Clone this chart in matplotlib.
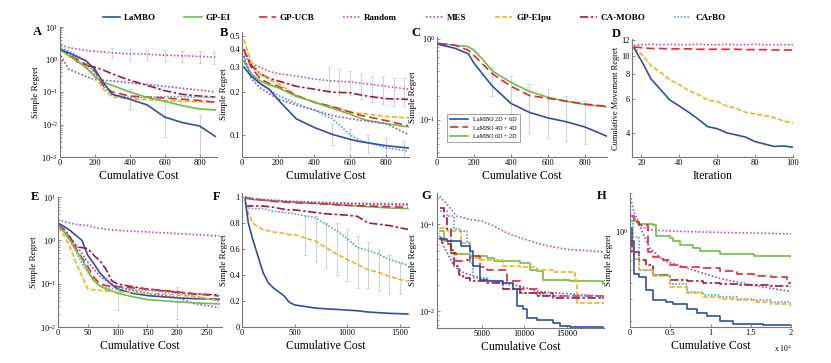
import matplotlib
matplotlib.use("Agg")
import matplotlib.pyplot as plt
from matplotlib.ticker import FixedLocator, NullFormatter, FuncFormatter, NullLocator, LogLocator
from matplotlib.lines import Line2D

plt.rcParams['font.family'] = ['Liberation Serif', 'DejaVu Serif']
plt.rcParams['mathtext.fontset'] = 'stix'

# ---------------- data ----------------
methods = ["LaMBO", "GP-EI", "GP-UCB", "Random", "MES", "GP-EIpu", "CA-MOBO", "CArBO"]

# Panel A
A_x = [5, 50, 100, 150, 200, 250, 300, 400, 500, 600, 700, 800, 890]
A_lambo = [2.0, 1.6, 1.2, 0.9, 0.5, 0.19, 0.085, 0.06, 0.04, 0.017, 0.0115, 0.009, 0.0043]
A_gpei = [2.0, 1.3, 0.9, 0.55, 0.3, 0.2, 0.16, 0.1, 0.068, 0.052, 0.038, 0.03, 0.028]
A_gpucb = [2.0, 1.4, 1.0, 0.7, 0.45, 0.15, 0.1, 0.075, 0.07, 0.065, 0.06, 0.055, 0.048]
A_random = [2.8, 2.3, 2.1, 1.9, 1.8, 1.7, 1.6, 1.5, 1.45, 1.35, 1.3, 1.25, 1.18]
A_mes = [1.3, 0.5, 0.39, 0.3, 0.24, 0.23, 0.22, 0.19, 0.17, 0.15, 0.13, 0.115, 0.1]
A_eipu = [2.0, 1.3, 0.9, 0.6, 0.3, 0.12, 0.07, 0.062, 0.058, 0.055, 0.052, 0.05, 0.05]
A_camobo = [2.0, 1.4, 0.85, 0.68, 0.58, 0.47, 0.36, 0.23, 0.16, 0.11, 0.085, 0.075, 0.07]
A_carbo = [2.3, 1.8, 1.3, 0.9, 0.35, 0.15, 0.08, 0.068, 0.068, 0.072, 0.072, 0.07, 0.068]
A_err_x = [300, 400, 500, 600, 700, 800, 880, 400, 600, 800]
A_err_lo = [1.1, 1.0, 0.95, 0.9, 0.85, 0.8, 0.75, 0.03, 0.004, 0.0012]
A_err_hi = [2.2, 2.1, 2.0, 1.9, 1.85, 1.8, 1.75, 0.12, 0.05, 0.02]

# Panel B
B_x = [10, 50, 100, 150, 200, 300, 400, 500, 600, 650, 700, 800, 920]
B_random = [0.36, 0.32, 0.3, 0.28, 0.27, 0.26, 0.247, 0.24, 0.236, 0.232, 0.228, 0.22, 0.21]
B_camobo = [0.4, 0.31, 0.27, 0.25, 0.24, 0.22, 0.21, 0.2, 0.198, 0.192, 0.187, 0.18, 0.178]
B_eipu = [0.47, 0.33, 0.27, 0.245, 0.23, 0.19, 0.17, 0.158, 0.145, 0.142, 0.14, 0.135, 0.132]
B_gpucb = [0.4, 0.3, 0.25, 0.23, 0.22, 0.19, 0.17, 0.158, 0.145, 0.138, 0.134, 0.126, 0.116]
B_gpei = [0.33, 0.27, 0.24, 0.225, 0.215, 0.187, 0.17, 0.154, 0.14, 0.132, 0.126, 0.12, 0.114]
B_mes = [0.36, 0.25, 0.215, 0.195, 0.18, 0.162, 0.15, 0.137, 0.13, 0.127, 0.125, 0.12, 0.101]
B_carbo = [0.35, 0.27, 0.23, 0.21, 0.19, 0.167, 0.15, 0.13, 0.1, 0.092, 0.088, 0.081, 0.077]
B_lambo = [0.3, 0.26, 0.23, 0.21, 0.177, 0.13, 0.113, 0.101, 0.093, 0.09, 0.088, 0.084, 0.081]
B_err_x = [480, 540, 600, 660, 720, 780, 840, 900, 500, 600, 700, 800, 900]
B_err_lo = [0.2, 0.19, 0.19, 0.18, 0.17, 0.165, 0.16, 0.16, 0.085, 0.08, 0.075, 0.072, 0.07]
B_err_hi = [0.3, 0.29, 0.28, 0.27, 0.26, 0.26, 0.25, 0.25, 0.12, 0.11, 0.1, 0.095, 0.09]

# Panel C
C_labels = ["LaMBO 2D + 6D", "LaMBO 4D + 4D", "LaMBO 6D + 2D"]
C_x = [10, 100, 170, 200, 250, 300, 400, 500, 600, 700, 800, 920]
C_2d6d = [0.85, 0.76, 0.65, 0.5, 0.36, 0.26, 0.16, 0.124, 0.106, 0.095, 0.082, 0.063]
C_4d4d = [0.87, 0.83, 0.72, 0.62, 0.48, 0.37, 0.26, 0.2, 0.185, 0.17, 0.157, 0.147]
C_6d2d = [0.87, 0.83, 0.8, 0.72, 0.55, 0.4, 0.29, 0.225, 0.19, 0.17, 0.155, 0.145]
C_err_x = [300, 400, 500, 600, 700, 800]
C_err_lo = [0.2, 0.12, 0.07, 0.06, 0.055, 0.05]
C_err_hi = [0.45, 0.35, 0.28, 0.24, 0.2, 0.17]

# Panel D
D_x = [16, 20, 25, 30, 35, 40, 45, 50, 55, 60, 65, 70, 75, 80, 85, 90, 95, 100]
D_lambo = [11.0, 9.4, 7.6, 6.7, 5.9, 5.5, 5.1, 4.7, 4.3, 4.2, 4.0, 3.9, 3.8, 3.6, 3.5, 3.4, 3.42, 3.37]
D_eipu = [11.0, 10.2, 8.9, 8.2, 7.5, 7.1, 6.6, 6.3, 5.9, 5.8, 5.5, 5.35, 5.1, 5.0, 4.9, 4.8, 4.6, 4.5]
D_random = [11.3, 11.4, 11.45, 11.4, 11.45, 11.4, 11.4, 11.45, 11.4, 11.4, 11.45, 11.4, 11.4, 11.45, 11.4, 11.4, 11.4, 11.4]
D_gpucb = [11.1, 11.0, 10.9, 10.9, 10.85, 10.85, 10.85, 10.8, 10.8, 10.8, 10.8, 10.8, 10.75, 10.75, 10.75, 10.7, 10.7, 10.7]

# Panel E
E_x = [0, 10, 20, 30, 40, 50, 60, 70, 80, 90, 100, 125, 150, 200, 230, 270]
E_random = [3.0, 2.7, 2.5, 2.35, 2.25, 2.2, 2.0, 1.9, 1.8, 1.75, 1.7, 1.62, 1.56, 1.43, 1.35, 1.26]
E_lambo = [2.5, 2.1, 1.7, 1.3, 1.0, 0.45, 0.29, 0.18, 0.128, 0.095, 0.075, 0.06, 0.053, 0.047, 0.045, 0.044]
E_camobo = [2.3, 1.8, 1.2, 0.72, 0.68, 0.64, 0.45, 0.34, 0.22, 0.118, 0.098, 0.085, 0.075, 0.063, 0.058, 0.055]
E_gpucb = [2.3, 1.6, 1.1, 0.65, 0.4, 0.25, 0.14, 0.1, 0.09, 0.087, 0.085, 0.08, 0.075, 0.065, 0.058, 0.052]
E_gpei = [2.2, 1.6, 1.0, 0.6, 0.37, 0.2, 0.118, 0.09, 0.075, 0.068, 0.06, 0.05, 0.043, 0.038, 0.036, 0.034]
E_eipu = [2.0, 1.3, 0.7, 0.31, 0.15, 0.075, 0.072, 0.07, 0.068, 0.066, 0.065, 0.063, 0.06, 0.055, 0.05, 0.04]
E_mes = [2.3, 1.8, 1.2, 0.8, 0.5, 0.31, 0.22, 0.15, 0.12, 0.1, 0.085, 0.07, 0.06, 0.048, 0.034, 0.028]
E_carbo = [2.3, 1.6, 1.0, 0.55, 0.3, 0.18, 0.12, 0.09, 0.08, 0.077, 0.075, 0.072, 0.07, 0.06, 0.052, 0.04]
E_err_x = [100, 200]
E_err_lo = [0.025, 0.015]
E_err_hi = [0.09, 0.085]

# Panel F
F_x = [30, 60, 100, 150, 200, 250, 300, 400, 450, 500, 700, 800, 900, 1000, 1100, 1200, 1300, 1400, 1580]
F_random = [1.0, 0.995, 0.99, 0.985, 0.98, 0.978, 0.975, 0.97, 0.968, 0.966, 0.96, 0.958, 0.955, 0.953, 0.952, 0.95, 0.949, 0.948, 0.946]
F_mes = [1.0, 0.99, 0.985, 0.98, 0.975, 0.972, 0.97, 0.965, 0.962, 0.96, 0.955, 0.952, 0.95, 0.948, 0.946, 0.944, 0.942, 0.94, 0.938]
F_gpucb = [0.995, 0.99, 0.985, 0.98, 0.975, 0.97, 0.965, 0.96, 0.957, 0.955, 0.95, 0.945, 0.94, 0.935, 0.932, 0.93, 0.927, 0.925, 0.92]
F_gpei = [0.99, 0.985, 0.98, 0.978, 0.975, 0.972, 0.97, 0.965, 0.962, 0.96, 0.95, 0.945, 0.94, 0.935, 0.93, 0.925, 0.92, 0.915, 0.91]
F_camobo = [0.93, 0.93, 0.93, 0.93, 0.93, 0.925, 0.92, 0.905, 0.9, 0.9, 0.88, 0.87, 0.865, 0.86, 0.85, 0.8, 0.79, 0.78, 0.75]
F_carbo = [0.92, 0.915, 0.91, 0.91, 0.91, 0.9, 0.89, 0.88, 0.875, 0.87, 0.84, 0.79, 0.74, 0.68, 0.61, 0.59, 0.56, 0.52, 0.475]
F_eipu = [0.95, 0.88, 0.8, 0.77, 0.75, 0.74, 0.73, 0.72, 0.71, 0.71, 0.66, 0.61, 0.56, 0.52, 0.48, 0.44, 0.42, 0.39, 0.35]
F_lambo = [0.98, 0.8, 0.68, 0.55, 0.42, 0.34, 0.3, 0.24, 0.19, 0.17, 0.145, 0.14, 0.135, 0.13, 0.125, 0.115, 0.11, 0.105, 0.1]
F_err_x = [600, 700, 800, 900, 1000, 1100, 1200, 1300, 1400, 1500]
F_err_lo = [0.55, 0.5, 0.45, 0.4, 0.35, 0.3, 0.3, 0.28, 0.25, 0.25]
F_err_hi = [0.85, 0.85, 0.8, 0.8, 0.75, 0.7, 0.65, 0.6, 0.55, 0.5]

# Panel G (step curves)
G_random_x = [0, 900, 2000, 3600, 5000, 6400, 7900, 9500, 11500, 13400, 15400, 17300, 19300]
G_random_y = [0.21, 0.17, 0.125, 0.114, 0.109, 0.096, 0.08, 0.07, 0.061, 0.055, 0.051, 0.05, 0.048]
G_camobo_x = [0, 500, 900, 1300, 1700, 2300, 2800, 3600, 5600, 7500, 9500, 11500, 13400, 19300]
G_camobo_y = [0.156, 0.12, 0.088, 0.051, 0.033, 0.026, 0.024, 0.022, 0.021, 0.0178, 0.0163, 0.015, 0.0143, 0.0137]
G_carbo_x = [0, 900, 1700, 2500, 3200, 3600, 4000, 5600, 7500, 9500, 11500, 13400, 19300]
G_carbo_y = [0.143, 0.125, 0.088, 0.084, 0.061, 0.036, 0.024, 0.022, 0.0178, 0.0163, 0.0152, 0.0149, 0.0143]
G_gpucb_x = [0, 300, 1000, 1300, 2000, 3200, 3600, 4800, 5600, 7500, 7900, 9500, 11500, 13400, 19300]
G_gpucb_y = [0.07, 0.061, 0.059, 0.047, 0.038, 0.039, 0.043, 0.032, 0.030, 0.030, 0.022, 0.0178, 0.0163, 0.0149, 0.0137]
G_gpei_x = [0, 500, 1300, 2000, 3600, 5600, 6400, 9500, 10700, 11500, 12250, 15400, 19300]
G_gpei_y = [0.084, 0.064, 0.047, 0.045, 0.043, 0.041, 0.038, 0.036, 0.030, 0.029, 0.023, 0.022, 0.0204]
G_eipu_x = [0, 900, 2500, 3600, 4800, 7500, 9500, 11500, 13400, 16000, 16200, 19300]
G_eipu_y = [0.092, 0.084, 0.061, 0.041, 0.039, 0.033, 0.032, 0.030, 0.028, 0.023, 0.0125, 0.012]
G_mes_x = [0, 500, 1700, 2800, 4800, 5600, 7500, 9500, 11500, 13400, 19300]
G_mes_y = [0.074, 0.056, 0.033, 0.028, 0.024, 0.023, 0.021, 0.0194, 0.017, 0.0163, 0.0149]
G_lambo_x = [0, 900, 2500, 3600, 4000, 4800, 5600, 7500, 8700, 9100, 9900, 10300, 11500, 13400, 14200, 15400, 19300]
G_lambo_y = [0.067, 0.064, 0.056, 0.049, 0.033, 0.023, 0.022, 0.021, 0.0178, 0.0114, 0.0105, 0.0084, 0.008, 0.0074, 0.0067, 0.0066, 0.0064]

# Panel H (step curves)
H_random_x = [0, 500, 1200, 2000, 2800, 5000, 7000, 10000, 13000, 16000, 20000]
H_random_y = [1.94, 1.41, 1.15, 1.05, 1.03, 1.01, 1.0, 0.99, 0.98, 0.97, 0.96]
H_mes_x = [0, 1172, 2400, 4100, 7000, 11200, 15400, 20000]
H_mes_y = [1.41, 1.12, 0.75, 0.6, 0.52, 0.43, 0.38, 0.34]
H_gpucb_x = [0, 500, 1172, 2200, 2845, 4100, 4937, 6200, 9100, 11200, 13300, 15400, 17500, 19500, 20000]
H_gpucb_y = [1.33, 1.19, 1.12, 0.69, 0.63, 0.6, 0.55, 0.53, 0.52, 0.49, 0.47, 0.45, 0.44, 0.4, 0.4]
H_gpei_x = [0, 1000, 2845, 3263, 4937, 5356, 6192, 7866, 8703, 10377, 11213, 15397, 20000]
H_gpei_y = [1.22, 1.15, 1.12, 0.92, 0.89, 0.84, 0.79, 0.75, 0.71, 0.70, 0.67, 0.65, 0.63]
H_camobo_x = [0, 250, 1172, 2008, 2845, 4937, 7029, 9121, 11213, 13305, 15397, 17490, 20000]
H_camobo_y = [0.84, 0.69, 0.6, 0.55, 0.46, 0.42, 0.41, 0.4, 0.39, 0.385, 0.38, 0.375, 0.37]
H_eipu_x = [0, 545, 1172, 2845, 4937, 7029, 9121, 11213, 13305, 15397, 17490, 20000]
H_eipu_y = [0.75, 0.61, 0.5, 0.45, 0.37, 0.33, 0.31, 0.30, 0.29, 0.28, 0.27, 0.26]
H_carbo_x = [0, 400, 1172, 2845, 4937, 7029, 9121, 11213, 13305, 15397, 17490, 20000]
H_carbo_y = [1.33, 0.9, 0.5, 0.46, 0.39, 0.34, 0.32, 0.31, 0.3, 0.29, 0.28, 0.265]
H_lambo_x = [0, 250, 545, 1172, 2008, 2845, 4519, 5356, 7029, 8285, 9540, 11213, 12800, 15397, 16500, 20000]
H_lambo_y = [1.06, 0.84, 0.47, 0.44, 0.35, 0.29, 0.28, 0.27, 0.25, 0.23, 0.22, 0.2, 0.19, 0.19, 0.185, 0.185]

# ---------------- styles ----------------
STY = {
    "LaMBO":   dict(color="#2f4fa8", ls="-"),
    "GP-EI":   dict(color="#6cbf48", ls="-"),
    "GP-UCB":  dict(color="#e4282c", ls=(0, (5, 2.5))),
    "Random":  dict(color="#c252aa", ls=(0, (1, 1.2))),
    "MES":     dict(color="#9050b2", ls=(0, (1, 1.2))),
    "GP-EIpu": dict(color="#f2b21e", ls=(0, (3, 1.3))),
    "CA-MOBO": dict(color="#a3163e", ls=(0, (5, 1.5, 1.5, 1.5))),
    "CArBO":   dict(color="#52a2dc", ls=(0, (1, 1))),
}
LW = 1.2
W, H = 831, 363

fig = plt.figure(figsize=(8.31, 3.63), dpi=100)


def box(l, r, t, b):
    return [l / W, 1 - b / H, (r - l) / W, (b - t) / H]


def style(ax):
    for s in ['top', 'right']:
        ax.spines[s].set_visible(False)
    for s in ['left', 'bottom']:
        ax.spines[s].set_color('#777777')
        ax.spines[s].set_linewidth(0.8)
    ax.tick_params(which='major', direction='in', labelsize=6, length=2.5, width=0.6,
                   color='#777777', pad=1.5)
    ax.tick_params(which='minor', direction='in', length=1.5, width=0.5, color='#777777')


def line(ax, x, y, name, step=False, label=None):
    st = STY[name]
    ax.plot(x, y, color=st["color"], ls=st["ls"], lw=LW,
            drawstyle='steps-post' if step else 'default', label=label)


def errs(ax, x, lo, hi):
    up = [h - l for l, h in zip(lo, hi)]
    ax.errorbar(x, lo, yerr=[[0] * len(lo), up], fmt='none', ecolor='#d0d0d0',
                elinewidth=0.7, capsize=1.5, capthick=0.6, zorder=0)


def xlab(ax, t):
    ax.set_xlabel(t, fontsize=8.5, labelpad=2)


def ylab(ax, t, fs=6.5):
    ax.set_ylabel(t, fontsize=fs, labelpad=1)


# ---- A ----
ax = fig.add_axes(box(60, 217, 27, 157))
style(ax)
errs(ax, A_err_x, A_err_lo, A_err_hi)
for name, ys in [("Random", A_random), ("MES", A_mes), ("CA-MOBO", A_camobo), ("CArBO", A_carbo),
                 ("GP-EIpu", A_eipu), ("GP-UCB", A_gpucb), ("GP-EI", A_gpei), ("LaMBO", A_lambo)]:
    line(ax, A_x, ys, name)
ax.set_yscale('log')
ax.set_ylim(1e-3, 1e1)
ax.set_xlim(0, 900)
ax.set_xticks([0, 200, 400, 600, 800])
ax.yaxis.set_major_locator(LogLocator(base=10, numticks=10))
xlab(ax, "Cumulative Cost")
ylab(ax, "Simple Regret")

# ---- B ----
ax = fig.add_axes(box(242, 409, 32, 157))
style(ax)
errs(ax, B_err_x, B_err_lo, B_err_hi)
for name, ys in [("Random", B_random), ("CA-MOBO", B_camobo), ("GP-EIpu", B_eipu), ("GP-UCB", B_gpucb),
                 ("GP-EI", B_gpei), ("MES", B_mes), ("CArBO", B_carbo), ("LaMBO", B_lambo)]:
    line(ax, B_x, ys, name)
ax.set_yscale('log')
ax.set_ylim(0.07, 0.53)
ax.set_xlim(0, 925)
ax.set_xticks([0, 200, 400, 600, 800])
ax.yaxis.set_major_locator(FixedLocator([0.1, 0.2, 0.3, 0.4, 0.5]))
ax.yaxis.set_major_formatter(FuncFormatter(lambda v, p: f"{v:g}"))
ax.yaxis.set_minor_locator(NullLocator())
ax.yaxis.set_minor_formatter(NullFormatter())
xlab(ax, "Cumulative Cost")
ylab(ax, "Simple Regret")

# ---- C ----
ax = fig.add_axes(box(437, 607, 37, 157))
style(ax)
errs(ax, C_err_x, C_err_lo, C_err_hi)
for name, ys, lab in [("GP-EI", C_6d2d, C_labels[2]), ("GP-UCB", C_4d4d, C_labels[1]), ("LaMBO", C_2d6d, C_labels[0])]:
    line(ax, C_x, ys, name, label=lab)
ax.set_yscale('log')
ax.set_ylim(0.035, 1.05)
ax.set_xlim(0, 920)
ax.set_xticks([0, 200, 400, 600, 800])
hs, ls_ = ax.get_legend_handles_labels()
leg = ax.legend(hs[::-1], ls_[::-1], loc='lower left', bbox_to_anchor=(0.04, 0.1), fontsize=4.4,
                frameon=True, fancybox=False, edgecolor='#777777', handlelength=3.0,
                borderpad=0.5, labelspacing=0.5)
leg.get_frame().set_linewidth(0.6)
xlab(ax, "Cumulative Cost")
ylab(ax, "Simple Regret")

# ---- D ----
ax = fig.add_axes(box(632, 793, 39, 157))
style(ax)
line(ax, D_x, D_random, "Random")
line(ax, D_x, D_gpucb, "GP-UCB")
line(ax, D_x, D_eipu, "GP-EIpu")
line(ax, D_x, D_lambo, "LaMBO")
ax.set_yscale('log')
ax.set_ylim(3.0, 12.2)
ax.set_xlim(15, 100)
ax.set_xticks([20, 40, 60, 80, 100])
ax.yaxis.set_major_locator(FixedLocator([4, 6, 8, 10, 12]))
ax.yaxis.set_major_formatter(FuncFormatter(lambda v, p: f"{v:g}"))
ax.yaxis.set_minor_locator(NullLocator())
ax.yaxis.set_minor_formatter(NullFormatter())
xlab(ax, "Iteration")
ylab(ax, "Cumulative Movement Regret", fs=6.0)

# ---- E ----
ax = fig.add_axes(box(58, 222, 197, 327))
style(ax)
errs(ax, E_err_x, E_err_lo, E_err_hi)
for name, ys in [("Random", E_random), ("CA-MOBO", E_camobo), ("GP-UCB", E_gpucb), ("LaMBO", E_lambo),
                 ("MES", E_mes), ("CArBO", E_carbo), ("GP-EI", E_gpei), ("GP-EIpu", E_eipu)]:
    line(ax, E_x, ys, name)
ax.set_yscale('log')
ax.set_ylim(1e-2, 1e1)
ax.set_xlim(0, 275)
ax.set_xticks([0, 50, 100, 150, 200, 250])
xlab(ax, "Cumulative Cost")
ylab(ax, "Simple Regret")

# ---- F ----
ax = fig.add_axes(box(242, 409, 193, 327))
style(ax)
errs(ax, F_err_x, F_err_lo, F_err_hi)
for name, ys in [("GP-EI", F_gpei), ("GP-UCB", F_gpucb), ("Random", F_random), ("MES", F_mes),
                 ("CA-MOBO", F_camobo), ("CArBO", F_carbo), ("GP-EIpu", F_eipu), ("LaMBO", F_lambo)]:
    line(ax, F_x, ys, name)
ax.set_ylim(0, 1.03)
ax.set_xlim(0, 1590)
ax.set_xticks([0, 500, 1000, 1500])
ax.set_yticks([0, 0.2, 0.4, 0.6, 0.8, 1.0])
ax.yaxis.set_major_formatter(FuncFormatter(lambda v, p: f"{v:g}"))
xlab(ax, "Cumulative Cost")
ylab(ax, "Simple Regret")

# ---- G ----
ax = fig.add_axes(box(437, 604, 193, 328))
style(ax)
line(ax, G_random_x, G_random_y, "Random")
line(ax, G_mes_x, G_mes_y, "MES")
line(ax, G_gpei_x, G_gpei_y, "GP-EI", step=True)
line(ax, G_eipu_x, G_eipu_y, "GP-EIpu", step=True)
line(ax, G_gpucb_x, G_gpucb_y, "GP-UCB", step=True)
line(ax, G_carbo_x, G_carbo_y, "CArBO", step=True)
line(ax, G_camobo_x, G_camobo_y, "CA-MOBO", step=True)
line(ax, G_lambo_x, G_lambo_y, "LaMBO", step=True)
ax.set_yscale('log')
ax.set_ylim(0.0064, 0.23)
ax.set_xlim(-300, 19400)
ax.set_xticks([5000, 10000, 15000])
xlab(ax, "Cumulative Cost")
ylab(ax, "Simple Regret")

# ---- H ----
ax = fig.add_axes(box(630, 791, 193, 327))
style(ax)
line(ax, H_random_x, H_random_y, "Random")
line(ax, H_mes_x, H_mes_y, "MES")
line(ax, H_gpei_x, H_gpei_y, "GP-EI", step=True)
line(ax, H_gpucb_x, H_gpucb_y, "GP-UCB", step=True)
line(ax, H_camobo_x, H_camobo_y, "CA-MOBO", step=True)
line(ax, H_carbo_x, H_carbo_y, "CArBO", step=True)
line(ax, H_eipu_x, H_eipu_y, "GP-EIpu", step=True)
line(ax, H_lambo_x, H_lambo_y, "LaMBO", step=True)
ax.set_yscale('log')
ax.set_ylim(0.18, 2.0)
ax.set_xlim(0, 20000)
ax.set_xticks([0, 5000, 10000, 15000, 20000])
ax.xaxis.set_major_formatter(FuncFormatter(lambda v, p: f"{v / 1e4:g}"))
ax.text(0.95, -0.12, r"x 10$^4$", transform=ax.transAxes, fontsize=5.5, ha='center', va='top')
xlab(ax, "Cumulative Cost")
ylab(ax, "Simple Regret")

# ---- panel letters ----
for letter, (px, py) in zip("ABCDEFGH", [(37, 32), (224, 33), (416, 33), (616, 34),
                                         (35, 197), (217, 197), (426, 196), (602, 196)]):
    fig.text(px / W, 1 - py / H, letter, fontsize=9, fontweight='bold', ha='center', va='center')

# ---- legend ----
handles = [Line2D([], [], color=STY[m]["color"], ls=STY[m]["ls"], lw=LW) for m in methods]
fig.legend(handles, methods, loc='center', bbox_to_anchor=(414 / W, 1 - 18 / H), ncol=8,
           frameon=False, prop={'weight': 'bold', 'size': 6.5}, handlelength=1.9,
           handletextpad=0.4, columnspacing=3.2)

fig.savefig("out.png", dpi=100)
